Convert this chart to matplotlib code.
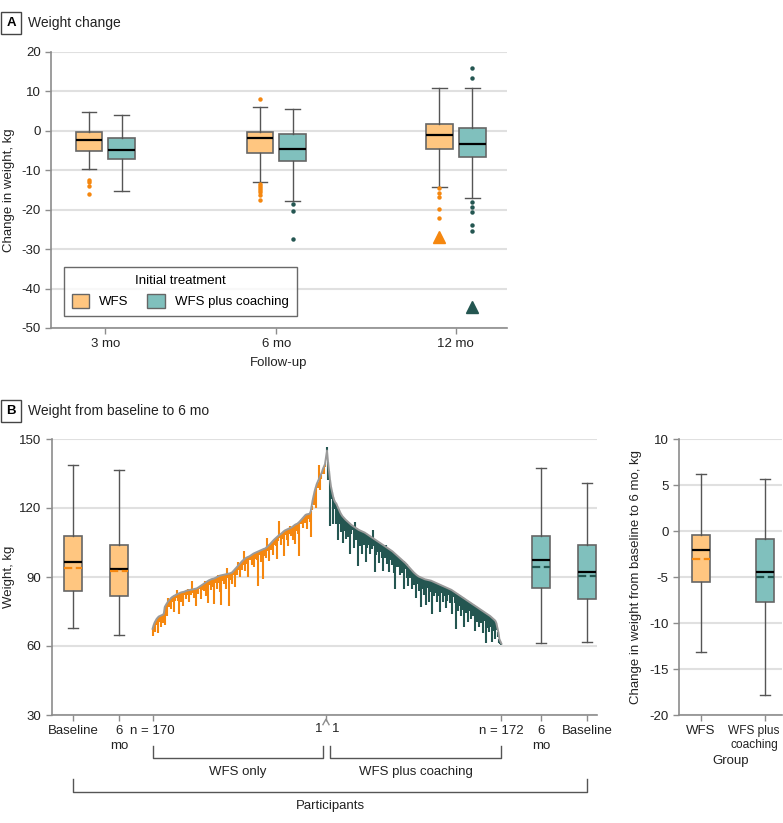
import numpy as np
import matplotlib
matplotlib.use("Agg")
import matplotlib.pyplot as plt
from matplotlib.patches import Patch
from matplotlib.transforms import blended_transform_factory, ScaledTranslation

plt.rcParams['font.family'] = ['Liberation Sans', 'DejaVu Sans']
plt.rcParams['font.size'] = 9
plt.rcParams['axes.unicode_minus'] = False

# ---- panel A: change in weight by follow-up ----
a_months = ["3 mo", "6 mo", "12 mo"]
a_wfs_whislo = [-9.8, -13.0, -14.3]
a_wfs_q1 = [-5.1, -5.5, -4.7]
a_wfs_med = [-2.3, -1.9, -1.1]
a_wfs_q3 = [-0.4, -0.4, 1.8]
a_wfs_whishi = [4.7, 6.1, 10.9]
a_wfs_fliers = [[-12.5, -12.9, -14.0, -15.9],
                [8.2, -13.4, -13.9, -14.4, -15.0, -15.6, -16.2, -17.6],
                [-14.6, -15.8, -16.7, -19.7, -22.1]]
a_wfs_tri = [None, None, -26.8]

a_co_whislo = [-15.3, -17.7, -17.1]
a_co_q1 = [-7.2, -7.6, -6.6]
a_co_med = [-4.9, -4.5, -3.4]
a_co_q3 = [-1.7, -0.9, 0.8]
a_co_whishi = [3.9, 5.5, 10.8]
a_co_fliers = [[],
               [-18.5, -20.2, -27.4],
               [15.9, 13.3, -18.1, -19.2, -20.7, -23.9, -25.3]]
a_co_tri = [None, None, -44.8]

# ---- panel B: weights, baseline sorted ----
wfs_base = [
    67.5, 69.0, 70.2, 71.0, 71.8, 72.3, 72.8, 73.0, 73.2, 73.4,
    73.6, 74.0, 77.0, 77.8, 78.5, 79.2, 79.8, 80.3, 80.8, 81.2,
    81.5, 81.8, 82.0, 82.3, 82.5, 82.7, 82.9, 83.1, 83.3, 83.4,
    83.5, 83.6, 83.8, 84.0, 84.1, 84.2, 84.3, 84.4, 84.5, 84.6,
    84.7, 84.8, 84.9, 85.0, 85.2, 85.5, 85.8, 86.1, 86.4, 86.7,
    87.0, 87.3, 87.6, 87.9, 88.2, 88.5, 88.7, 88.9, 89.1, 89.2,
    89.3, 89.5, 89.7, 90.0, 90.2, 90.4, 90.6, 90.7, 90.8, 90.9,
    91.0, 91.1, 91.2, 91.3, 91.4, 91.5, 91.6, 91.8, 92.0, 92.5,
    93.0, 93.5, 94.0, 94.5, 95.0, 95.5, 96.0, 96.5, 97.0, 97.4,
    97.8, 98.1, 98.4, 98.6, 98.8, 99.0, 99.3, 99.6, 99.9, 100.2,
    100.4, 100.6, 100.8, 101.0, 101.2, 101.4, 101.6, 101.8, 102.0, 102.2,
    102.3, 102.6, 103.0, 103.4, 103.8, 104.2, 104.7, 105.2, 105.7, 106.2,
    106.6, 107.0, 107.4, 107.8, 108.2, 108.5, 108.8, 109.2, 109.6, 110.0,
    110.3, 110.5, 110.7, 110.9, 111.1, 111.3, 111.5, 111.8, 112.1, 112.5,
    112.8, 113.0, 113.2, 113.6, 114.0, 114.5, 115.0, 115.5, 116.0, 116.5,
    117.0, 117.2, 117.3, 117.4, 117.5, 118.5, 121.0, 123.5, 125.5, 127.5,
    129.0, 130.5, 131.5, 132.5, 133.5, 134.5, 135.5, 137.0, 138.0, 139.0]
wfs_change = [
    -3.0, -1.5, -4.0, -2.0, -1.0, -6.5, -0.5, -2.5, -5.0, -1.0,
    -3.5, 0.5, -8.0, -2.0, -5.5, 1.5, -3.0, -1.0, -4.5, -2.0,
    -0.5, -7.0, -2.5, -1.5, 2.0, -3.0, -9.0, -1.0, -4.0, -2.0,
    -6.0, -0.5, -1.5, -3.5, -2.0, 0.5, -5.0, -1.0, -2.5, 3.5,
    -1.5, -4.0, -2.0, -7.5, -0.5, -3.0, -1.0, -5.5, -2.0, -1.5,
    -3.0, 1.0, -6.0, -2.5, -9.5, -1.0, -2.0, -4.5, -0.5, -3.5,
    -11.0, -2.0, -1.5, -5.0, 0.5, -3.0, -7.0, -13.0, -1.0, -2.5,
    -4.0, -1.0, -6.5, 2.5, -2.0, -14.0, -3.0, -1.5, -5.0, -0.5,
    -2.0, -8.0, -1.0, -3.5, 1.5, -2.5, -6.0, -1.0, -4.0, -2.0,
    3.5, -5.5, -1.5, -3.0, -9.0, -0.5, -2.0, -4.5, -1.0, -6.0,
    -2.5, -1.0, -3.5, -15.0, -0.5, -2.0, -5.0, -1.5, -13.0, -3.0,
    -1.0, -4.5, 4.0, -2.0, -7.0, -1.5, -3.0, -0.5, -6.0, -2.5,
    -1.0, -3.5, -9.5, -2.0, 6.0, -1.5, -5.0, -0.5, -3.0, -11.0,
    -2.0, -1.0, -4.5, -7.5, -2.5, 1.0, -3.5, -1.0, -6.0, -2.0,
    -8.5, -1.5, -3.0, -5.0, -15.0, -0.5, -2.0, -4.0, -1.0, -3.0,
    -1.5, -6.5, -2.0, -0.5, -3.5, -11.0, -2.0, -1.5, -4.0, -2.5,
    -9.0, -1.0, -3.0, 6.0, -5.5, -2.0, -0.5, -1.5, -3.0, -1.0]

co_base = [
    145.0, 140.0, 136.0, 132.0, 129.0, 127.0, 125.0, 123.5, 122.5, 122.0,
    121.0, 120.0, 119.0, 118.0, 117.2, 116.5, 116.0, 115.5, 115.0, 114.6,
    114.2, 113.8, 113.4, 113.0, 112.6, 112.3, 112.0, 111.7, 111.4, 111.1,
    110.8, 110.5, 110.3, 110.1, 109.9, 109.7, 109.5, 109.3, 109.0, 108.7,
    108.4, 108.1, 107.8, 107.5, 107.2, 106.9, 106.6, 106.3, 106.0, 105.7,
    105.4, 105.1, 104.8, 104.5, 104.2, 103.9, 103.6, 103.3, 103.0, 102.7,
    102.4, 102.1, 101.8, 101.5, 101.2, 100.8, 100.4, 100.0, 99.6, 99.2,
    98.8, 98.4, 98.0, 97.6, 97.2, 96.8, 96.4, 96.0, 95.5, 95.0,
    94.5, 94.0, 93.5, 93.0, 92.5, 92.0, 91.6, 91.2, 90.8, 90.5,
    90.2, 90.0, 89.8, 89.6, 89.4, 89.2, 89.0, 88.9, 88.8, 88.7,
    88.6, 88.5, 88.4, 88.2, 88.0, 87.8, 87.6, 87.4, 87.2, 87.0,
    86.8, 86.6, 86.4, 86.2, 86.0, 85.8, 85.6, 85.4, 85.2, 85.0,
    84.8, 84.6, 84.4, 84.1, 83.8, 83.5, 83.2, 82.9, 82.6, 82.3,
    82.0, 81.7, 81.4, 81.1, 80.8, 80.5, 80.2, 79.9, 79.6, 79.3,
    79.0, 78.7, 78.4, 78.1, 77.8, 77.5, 77.2, 76.9, 76.6, 76.3,
    76.0, 75.7, 75.4, 75.1, 74.8, 74.5, 74.2, 73.9, 73.6, 73.3,
    73.0, 72.6, 72.2, 71.8, 71.4, 71.0, 70.0, 68.0, 66.0, 63.0,
    62.0, 61.0]
co_change = [
    1.5, -8.0, -3.0, -20.0, -5.0, -2.0, -12.0, -4.0, -1.5, -9.0,
    -3.0, -14.0, -6.0, -2.0, -7.5, -4.0, -11.0, -2.5, -5.0, -8.0,
    -1.0, -6.5, -3.5, -13.0, -4.0, -2.0, -9.5, 2.0, -5.5, -3.0,
    -16.0, -4.5, -7.0, -1.5, -10.0, -3.0, -5.5, -2.0, -12.5, -6.0,
    -2.5, -4.0, -8.0, -1.0, -5.0, 3.5, -3.0, -14.0, -6.5, -2.0,
    -4.5, -9.0, -1.5, -3.5, -6.0, -11.5, -2.0, -5.0, 1.0, -7.0,
    -3.0, -10.0, -4.5, -1.5, -6.0, -2.5, -8.5, -15.0, -3.5, -5.0,
    -1.0, -4.0, -7.0, -2.0, -5.5, -12.0, -3.0, -1.5, -6.0, -9.0,
    -2.5, -4.5, -1.0, -8.0, -3.5, -5.5, -2.0, -10.5, -4.0, -1.5,
    -6.5, -3.0, -13.0, -5.0, -2.0, -7.0, -4.0, -11.0, -1.5, -3.5,
    -9.5, -2.5, -5.0, -14.5, -3.0, -6.0, -1.0, -4.5, -8.0, -2.0,
    -5.0, -12.0, -3.5, -1.5, -7.0, -4.0, -2.5, -9.0, -5.5, -3.0,
    -1.0, -6.0, -4.0, -10.0, -2.5, -5.0, -16.0, -3.0, -7.5, -1.5,
    -4.5, -8.5, -2.0, -5.5, -12.5, -3.0, -6.0, -1.0, -9.0, -4.0,
    -2.5, -7.0, -3.5, -5.0, -1.5, -11.0, -4.0, -6.5, -2.0, -8.0,
    -3.0, -5.5, -1.0, -9.5, -4.0, -2.5, -13.0, -6.0, -3.5, -7.0,
    -1.5, -4.5, -10.5, -2.0, -5.0, -8.0, -3.0, -1.0, -2.0, -1.5,
    -1.0, -0.5]

# box summaries for panel B (whislo, q1, med, mean, q3, whishi)
b_labels = ["Baseline", "6\nmo", "6\nmo", "Baseline"]
b_whislo = [68.0, 64.6, 61.4, 61.9]
b_q1 = [84.1, 81.6, 85.4, 80.4]
b_med = [96.7, 93.6, 97.2, 92.2]
b_mean = [94.1, 92.5, 94.3, 90.4]
b_q3 = [108.0, 104.1, 108.0, 104.1]
b_whishi = [138.8, 136.4, 137.5, 130.7]

c_groups = ["WFS", "WFS plus\ncoaching"]
c_whislo = [-13.1, -17.8]
c_q1 = [-5.5, -7.7]
c_med = [-2.1, -4.5]
c_mean = [-3.0, -5.0]
c_q3 = [-0.4, -0.9]
c_whishi = [6.2, 5.6]

ORANGE_FILL = '#FFC680'
TEAL_FILL = '#80C0BD'
ORANGE = '#F5870F'
TEAL = '#245651'
EDGE = '#666666'
GRID = '#E0E0E0'
SPINE = '#8C8C8C'
TXT = '#222222'
FS = 9.5

W, H = 783, 823
fig = plt.figure(figsize=(W / 100, H / 100), dpi=100)


def ax_at(l, t, r, b):
    return fig.add_axes([l / W, 1 - b / H, (r - l) / W, (b - t) / H])


def style(ax):
    for s in ['top', 'right']:
        ax.spines[s].set_visible(False)
    for s in ['left', 'bottom']:
        ax.spines[s].set_color(SPINE)
        ax.spines[s].set_linewidth(1.2)
    ax.tick_params(colors=SPINE, labelcolor=TXT, length=4, width=1, labelsize=FS)
    ax.yaxis.grid(True, color=GRID, linewidth=1.5)
    ax.set_axisbelow(True)


def panel_tag(x, y, letter, title):
    fig.text(x / W, 1 - y / H, letter, fontsize=9.5, fontweight='bold', va='center', ha='center',
             bbox=dict(boxstyle='square,pad=0.4', fc='white', ec='#444444', lw=1))
    fig.text((x + 17) / W, 1 - y / H, title, fontsize=10, va='center', ha='left', color=TXT)


def stats(lo, q1, med, q3, hi, fl=None, mean=None):
    d = dict(whislo=lo, q1=q1, med=med, q3=q3, whishi=hi, fliers=fl if fl is not None else [])
    if mean is not None:
        d['mean'] = mean
    return d


def draw_box(ax, st, pos, width, fill, fcol, showmean=False, mcol=None):
    bp = ax.bxp(st, positions=pos, widths=width, patch_artist=True, showfliers=True,
                showmeans=showmean, meanline=True, capwidths=width * 0.55,
                boxprops=dict(facecolor=fill, edgecolor=EDGE, linewidth=1.2),
                medianprops=dict(color='black', linewidth=1.6),
                whiskerprops=dict(color='#555555', linewidth=1),
                capprops=dict(color='#555555', linewidth=1),
                flierprops=dict(marker='o', markersize=3.2, markerfacecolor=fcol,
                                markeredgecolor='none', linestyle='none'),
                meanprops=dict(color=mcol, linestyle='--', linewidth=1.6))
    return bp


# ---------------- Panel A ----------------
panel_tag(11, 23, "A", "Weight change")
axA = ax_at(51, 52, 507, 328)
style(axA)
a_pos = np.array([0, 1, 2.05])
off, bw = 0.096, 0.156
st_w = [stats(a_wfs_whislo[i], a_wfs_q1[i], a_wfs_med[i], a_wfs_q3[i], a_wfs_whishi[i], a_wfs_fliers[i])
        for i in range(3)]
st_c = [stats(a_co_whislo[i], a_co_q1[i], a_co_med[i], a_co_q3[i], a_co_whishi[i], a_co_fliers[i])
        for i in range(3)]
draw_box(axA, st_w, a_pos - off, bw, ORANGE_FILL, ORANGE)
draw_box(axA, st_c, a_pos + off, bw, TEAL_FILL, TEAL)
for i in range(3):
    if a_wfs_tri[i] is not None:
        axA.plot(a_pos[i] - off, a_wfs_tri[i], marker='^', color=ORANGE, markersize=8, linestyle='none')
    if a_co_tri[i] is not None:
        axA.plot(a_pos[i] + off, a_co_tri[i], marker='^', color=TEAL, markersize=8, linestyle='none')
axA.set_xlim((51 - 105.3) / 171, (507 - 105.3) / 171)
axA.set_ylim(-50, 20)
axA.set_yticks(np.arange(-50, 21, 10))
axA.set_xticks(a_pos)
axA.set_xticklabels(a_months)
axA.set_ylabel("Change in weight, kg", fontsize=FS, color=TXT)
axA.yaxis.set_label_coords((15 - 51) / 456, 0.5)
axA.set_xlabel("Follow-up", fontsize=FS, color=TXT, labelpad=5)
leg = axA.legend(handles=[Patch(facecolor=ORANGE_FILL, edgecolor=EDGE, label="WFS"),
                          Patch(facecolor=TEAL_FILL, edgecolor=EDGE, label="WFS plus coaching")],
                 title="Initial treatment", ncol=2, loc='lower left', bbox_to_anchor=(0.028, 0.043),
                 frameon=True, fancybox=False, edgecolor='#444444', fontsize=FS, title_fontsize=FS,
                 handlelength=1.3, handleheight=1.3, columnspacing=1.4, borderpad=0.6, borderaxespad=0)
leg.get_frame().set_linewidth(1)

# ---------------- Panel B ----------------
panel_tag(11, 411, "B", "Weight from baseline to 6 mo")
axB = ax_at(52, 439, 597, 715)
style(axB)
n_w, n_c = len(wfs_base), len(co_base)
wfs_x = np.arange(-n_w, 0)
co_x = np.arange(1, n_c + 1)
wb, wc = np.array(wfs_base), np.array(wfs_change)
cb, cc = np.array(co_base), np.array(co_change)
axB.vlines(wfs_x, wb, wb + wc, color=ORANGE, linewidth=1.5, zorder=2)
axB.vlines(co_x, cb, cb + cc, color=TEAL, linewidth=1.5, zorder=2)
axB.plot(np.concatenate([wfs_x, co_x]), np.concatenate([wb, cb]), color='#9A9A9A', linewidth=1.4,
         zorder=3, solid_joinstyle='round')

b_pos = np.array([-248, -203, 211, 256])
b_fill = [ORANGE_FILL, ORANGE_FILL, TEAL_FILL, TEAL_FILL]
b_mcol = [ORANGE, ORANGE, TEAL, TEAL]
for i in range(4):
    draw_box(axB, [stats(b_whislo[i], b_q1[i], b_med[i], b_q3[i], b_whishi[i], mean=b_mean[i])],
             [b_pos[i]], 17.4, b_fill[i], b_mcol[i], showmean=True, mcol=b_mcol[i])
axB.set_xlim(-268.6, 265.7)
axB.set_ylim(30, 150)
axB.set_yticks(np.arange(30, 151, 30))
tick_x = [-248, -203, -n_w, 0, n_c, 211, 256]
tick_l = [b_labels[0], b_labels[1], "n = %d" % n_w, "", "n = %d" % n_c, b_labels[2], b_labels[3]]
axB.set_xticks(tick_x)
axB.set_xticklabels(tick_l, linespacing=1.3)
axB.set_ylabel("Weight, kg", fontsize=FS, color=TXT)
axB.yaxis.set_label_coords((15 - 52) / 545, 0.5)

tr = blended_transform_factory(axB.transData, axB.transAxes)
axB.text(-7, -0.028, "1", transform=tr, ha='center', va='top', fontsize=FS, color=TXT)
axB.text(10, -0.028, "1", transform=tr, ha='center', va='top', fontsize=FS, color=TXT)
axB.plot([-3, 0, 3], [-0.035, -0.015, -0.035], transform=tr, color=SPINE, lw=1, clip_on=False)


def bracket(x0, x1, ytop, ybot, label, ylab):
    axB.plot([x0, x0, x1, x1], [ytop, ybot, ybot, ytop], transform=tr, color='#555555', lw=1,
             clip_on=False)
    axB.text((x0 + x1) / 2, ylab, label, transform=tr, ha='center', va='center', fontsize=FS,
             color=TXT)


bracket(-n_w, -3, -0.112, -0.156, "WFS only", -0.205)
bracket(4, n_c, -0.112, -0.156, "WFS plus coaching", -0.205)
bracket(-248, 256, -0.232, -0.279, "Participants", -0.33)

# ---------------- Panel C (right) ----------------
axC = ax_at(679, 439, 782, 715)
style(axC)
c_pos = [0, 1]
c_fill = [ORANGE_FILL, TEAL_FILL]
c_mcol = [ORANGE, TEAL]
for i in range(2):
    draw_box(axC, [stats(c_whislo[i], c_q1[i], c_med[i], c_q3[i], c_whishi[i], mean=c_mean[i])],
             [c_pos[i]], 0.277, c_fill[i], c_mcol[i], showmean=True, mcol=c_mcol[i])
axC.set_xlim((679 - 701) / 64, (782 - 701) / 64)
axC.set_ylim(-20, 10)
axC.set_yticks(np.arange(-20, 11, 5))
axC.set_xticks(c_pos)
axC.set_xticklabels(c_groups, linespacing=1.15)
lab2 = axC.get_xticklabels()[1]
lab2.set_fontsize(8.6)
lab2.set_transform(lab2.get_transform() + ScaledTranslation(-11 / 100, 0, fig.dpi_scale_trans))
axC.set_ylabel("Change in weight from baseline to 6 mo, kg", fontsize=FS, color=TXT)
axC.yaxis.set_label_coords((642 - 679) / 103, 0.5)
axC.set_xlabel("Group", fontsize=FS, color=TXT, labelpad=3)

fig.savefig("out.png", dpi=100)
